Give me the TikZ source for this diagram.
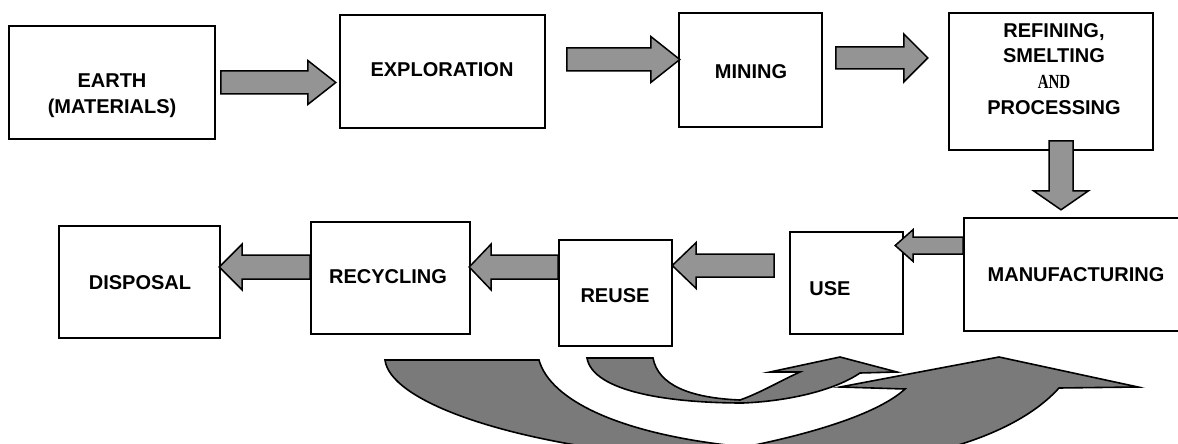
\documentclass[tikz,border=0pt]{standalone}
\usepackage{graphicx}
\usepackage{fontspec}
\setmainfont{Liberation Sans}
\newfontfamily\andfont{Liberation Serif}
\usetikzlibrary{calc}
\begin{document}
\begin{tikzpicture}[x=0.5pt,y=-0.5pt,
  box/.style={draw=black, line width=0.8pt, fill=white, inner sep=0pt},
  lbl/.style={font=\bfseries\fontsize{10}{12.9}\selectfont, align=center, inner sep=0pt},
  arrowfill/.style={draw=black, line width=0.75pt, fill=black!42, line join=miter},
  curvefill/.style={draw=black, line width=0.8pt, fill=black!52, line join=miter},
  pics/barrow/.style args={#1/#2/#3/#4}{code={
    \draw[arrowfill] (0,-#2) -- ({#1-#4},-#2) -- ({#1-#4},-#3) -- (#1,0) -- ({#1-#4},#3) -- ({#1-#4},#2) -- (0,#2) -- cycle;}}
]
\useasboundingbox (0,0) rectangle (1178,444);

% boxes
\node[box, minimum width=103pt,  minimum height=56.5pt] (earth)    at (112,82.5)   {};
\node[box, minimum width=102.5pt,minimum height=56.5pt] (explor)   at (442.5,71.5) {};
\node[box, minimum width=71.5pt, minimum height=57pt]   (mining)   at (750.5,70)   {};
\node[box, minimum width=102pt,  minimum height=68.5pt] (refining) at (1051,81.5)  {};
\node[box, minimum width=112pt,  minimum height=56.5pt] (manuf)    at (1076,274.5) {};
\node[box, minimum width=56.5pt, minimum height=51pt]   (use)      at (846.5,283)  {};
\node[box, minimum width=56.5pt, minimum height=53pt]   (reuse)    at (615.5,293)  {};
\node[box, minimum width=79.5pt, minimum height=56pt]   (recyc)    at (390.5,278)  {};
\node[box, minimum width=80.5pt, minimum height=56pt]   (disposal) at (139.5,282)  {};

% labels
\node[lbl] (tearth) at (112,96) {EARTH\\(MATERIALS)};
\node[lbl] (texplor) at (442,70) {EXPLORATION};
\node[lbl] (tmining) at (751,72) {MINING};
\node[lbl] (trefining) at (1054,69) {REFINING,\\SMELTING\\{\andfont\fontsize{10}{12.9}\selectfont\scalebox{0.75}[1]{AND}}\\PROCESSING};
\node[lbl] (tmanuf) at (1076,275) {MANUFACTURING};
\node[lbl] (tuse) at (830,289) {USE};
\node[lbl] (treuse) at (615,296) {REUSE};
\node[lbl] (trecyc) at (388,277) {RECYCLING};
\node[lbl] (tdisposal) at (140,283) {DISPOSAL};

% block arrows
\coordinate (a1) at ($(earth.east)+(5,0)$);
\coordinate (a2) at ($(explor.east)+(21,-12)$);
\coordinate (a3) at ($(mining.east)+(13,-12)$);
\coordinate (a4) at ($(refining.south)+(10,-10)$);
\coordinate (a5) at ($(manuf.west)+(0,-29)$);
\coordinate (a6) at ($(use.west)+(-15,-17.5)$);
\coordinate (a7) at ($(reuse.west)+(0,-26)$);
\coordinate (a8) at ($(recyc.west)+(0,-11)$);
\pic at (a1) {barrow=115/11.5/22/28};
\pic at (a2) {barrow=113/11.5/23/29};
\pic at (a3) {barrow=92/11/24/24};
\pic[rotate=-90] at (a4) {barrow=69/12/27.5/19};
\pic[rotate=180] at (a5) {barrow=68/8.5/16/18};
\pic[rotate=180] at (a6) {barrow=102/11.5/23/24};
\pic[rotate=180] at (a7) {barrow=89/12/23/22};
\pic[rotate=180] at (a8) {barrow=91/12/23/23};

% curved arrows
\draw[curvefill] (587,358) -- (653,358) .. controls (658,385) and (690,398) .. (740,400)
  .. controls (760,393) and (782,380) .. (800,372) -- (770,372) -- (840,357) -- (897,372) -- (860,373)
  .. controls (835,390) and (790,401) .. (743,403)
  .. controls (670,403) and (593,392) .. (587,358) -- cycle;
\draw[curvefill] (385,360) -- (539,360) .. controls (550,400) and (620,435) .. (745,447)
  .. controls (820,432) and (880,412) .. (905,389) -- (840,387) -- (999,357) -- (1138,387) -- (1059,388)
  .. controls (1030,420) and (980,442) .. (920,455) -- (650,455)
  .. controls (500,440) and (390,400) .. (385,360) -- cycle;
\end{tikzpicture}
\end{document}
